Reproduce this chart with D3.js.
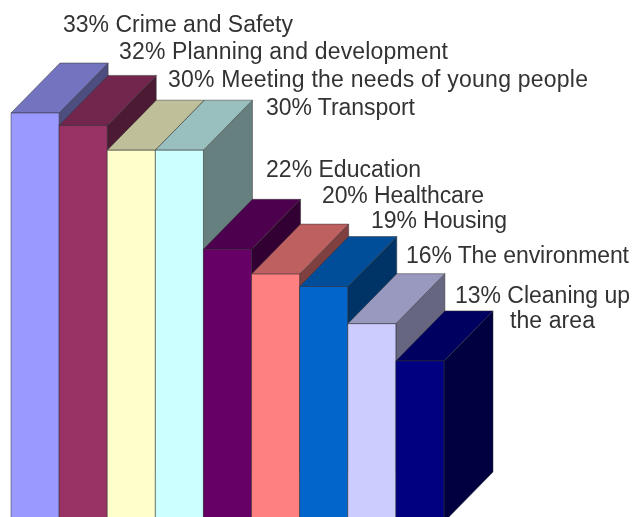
<!DOCTYPE html>
<html><head><meta charset="utf-8">
<script src="https://cdn.jsdelivr.net/npm/d3@7"></script>
<style>html,body{margin:0;padding:0;background:#fff;overflow:hidden}svg{display:block;filter:blur(0.7px)}</style>
</head><body><svg id="c" width="632" height="517"></svg>
<script>
const categories=["Crime and Safety","Planning and development","Meeting the needs of young people","Transport","Education","Healthcare","Housing","The environment","Cleaning up"];
const values=[33,32,30,30,22,20,19,16,13];
const colours=["#9999ff","#993366","#ffffcc","#ccffff","#660066","#ff8080","#0066cc","#ccccff","#000080"];
const labelLeft=[63,119,168,266,266,322,371,406,455];
const labelBase=[32,59,87,115,177,203,228,263,303];
const labelWidth=[230,329,420,149,155,162,136,223,175];

const W=632,H=517,depthX=49,depthY=50;
const x=d3.scaleBand().domain(categories).range([11,444]).padding(0);
const y=d3.scaleLinear().domain([0,33]).range([522,113]);
const svg=d3.select("#c");
const shade=(c,k)=>{const r=d3.rgb(c);return d3.rgb(r.r*k,r.g*k,r.b*k).formatHex();};
const poly=d3.line();
const bars=svg.selectAll("g.bar").data(categories).join("g").attr("class","bar");
bars.each(function(c,i){
  const g=d3.select(this),x0=x(c),x1=x0+x.bandwidth(),t=y(values[i]),b=y(0);
  const add=(pts,fill)=>g.append("path").attr("d",poly(pts)+"Z").attr("fill",fill)
    .attr("stroke","#333").attr("stroke-width",0.5).attr("stroke-linejoin","round");
  add([[x1,t],[x1+depthX,t-depthY],[x1+depthX,b-depthY],[x1,b]],shade(colours[i],0.5));
  add([[x0,t],[x0+depthX,t-depthY],[x1+depthX,t-depthY],[x1,t]],shade(colours[i],0.75));
  add([[x0,t],[x1,t],[x1,b],[x0,b]],colours[i]);
});
const labels=svg.append("g").attr("font-family","'Liberation Sans',Arial,sans-serif").attr("font-size",23).attr("fill","#333");
labels.selectAll("text").data(categories).join("text")
 .attr("x",(d,i)=>labelLeft[i]).attr("y",(d,i)=>labelBase[i])
 .attr("textLength",(d,i)=>labelWidth[i]).attr("lengthAdjust","spacing")
 .text((d,i)=>values[i]+"% "+d);
labels.append("text").attr("x",510).attr("y",328).attr("textLength",85).text("the area");
</script></body></html>
